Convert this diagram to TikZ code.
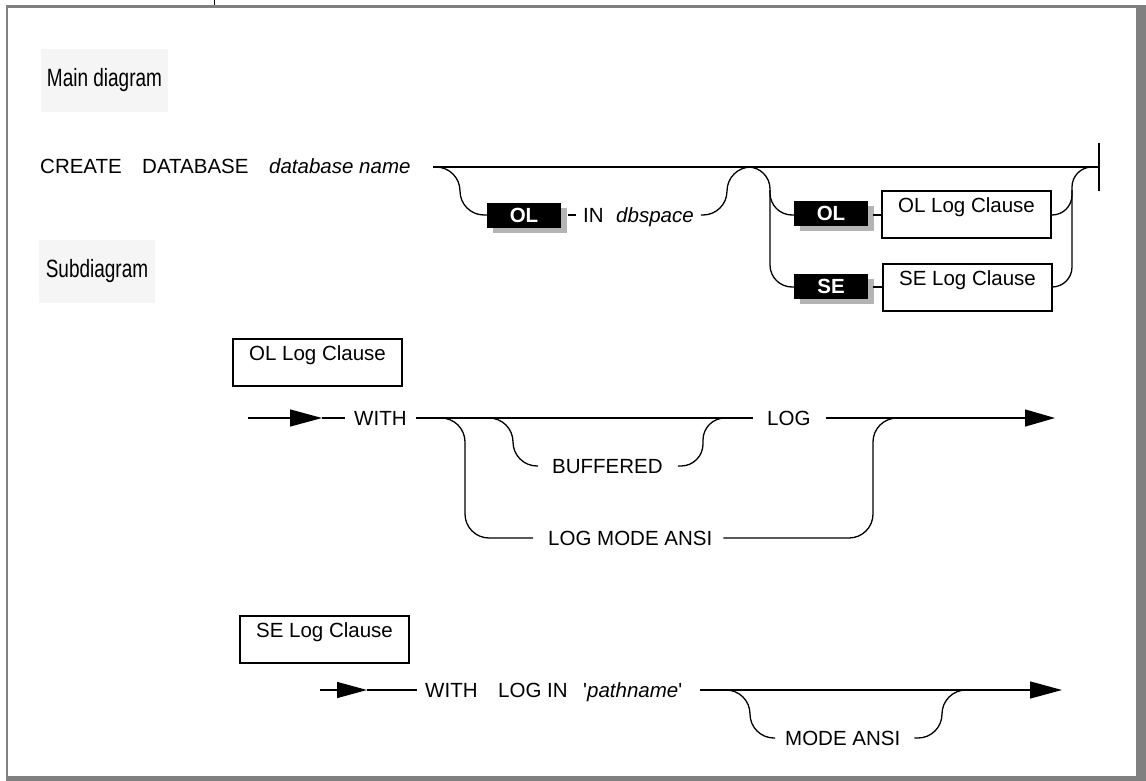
\documentclass[tikz,border=0pt]{standalone}
\usepackage{fontspec}
\setmainfont{Liberation Sans}
\newfontfamily\labelfont[FakeStretch=0.76]{Liberation Sans}
\usetikzlibrary{arrows.meta,shadows}
\definecolor{framegray}{HTML}{808080}
\definecolor{shadowgray}{HTML}{B4B4B4}
\definecolor{labelbg}{HTML}{F5F5F5}
\tikzset{
  kw/.style={inner sep=0pt, anchor=west, text height=14.7pt, text depth=0pt, font=\fontsize{20.5}{24}\selectfont},
  var/.style={kw, font=\fontsize{20.5}{24}\selectfont\itshape},
  rail/.style={line width=1.3pt, rounded corners=24pt},
  tag/.style={fill=black, text=white, inner sep=0pt, minimum width=74pt, minimum height=25pt,
    text height=14.7pt, text depth=0pt, font=\fontsize{20.5}{24}\selectfont\bfseries,
    general shadow={fill=shadowgray, shadow xshift=6pt, shadow yshift=-5pt}},
  clause/.style={draw, line width=2.4pt, inner xsep=0pt, inner ysep=6.5pt, minimum width=168.6pt,
    text height=14.3pt, text depth=19.3pt, anchor=north west, font=\fontsize{20.5}{24}\selectfont},
  lbl/.style={fill=labelbg, inner sep=0pt, font=\labelfont\fontsize{25}{28}\selectfont},
  bigtip/.style={-{Triangle[length=32pt,width=17pt]}},
}
\begin{document}
\begin{tikzpicture}[x=1pt,y=-1pt]
\useasboundingbox (0,0) rectangle (1146,781);
% frame
\fill[framegray] (6,5) rectangle (1146,8);
\fill[framegray] (6,5) rectangle (8.3,776);
\fill[framegray] (6,776) rectangle (1146,781);
\fill[framegray] (1136,5) rectangle (1146,781);
\draw[line width=1pt] (214,0) -- (214,5);

% labels
\node[lbl, minimum width=127pt, minimum height=63pt] (mainlbl) at (104.5,80.5) {Main diagram};
\node[lbl, minimum width=116pt, minimum height=63pt] (sublbl) at (97,271.5) {Subdiagram};

% ---------------- main diagram ----------------
\node[kw] (create) at (40,166.5) {CREATE};
\node[kw] (database) at (142,166.5) {DATABASE};
\node[var] (dbname) at (269,166.5) {database name};
\coordinate (m0) at (433,167);
\coordinate (b2) at (748,167);
\coordinate (mend) at (1099,167);
\draw[line width=1.3pt] (m0) -- (mend);
\draw[line width=1.3pt] (1099,143) -- (1099,191);

% OL IN dbspace branch
\node[tag] (ol1) at (524,215) {OL};
\node[kw] (in) at (583,215) {IN};
\node[var] (dbspace) at (616,215) {dbspace};
\draw[rail] (m0) -- (460,167) -- (460,215) -- (ol1.west);
\draw[line width=1.3pt] ([xshift=7pt]ol1.east) -- ([xshift=-7pt]in.west);
\draw[rail] ([xshift=7pt]dbspace.east) -- (727,215) -- (727,167) -- (751,167);

% log clause branches
\node[tag] (ol2) at (831,213) {OL};
\node[tag] (se) at (831,286) {SE};
\node[clause] (olc) at (881,190) {OL Log Clause};
\node[clause] (sec) at (882,263) {SE Log Clause};
\draw[rail, rounded corners=22pt] (b2) -- (770,167) -- (770,287) -- (795,287);
\draw[rail, rounded corners=22pt] (770,190) -- (770,215) -- (795,215);
\draw[line width=1.3pt] (873,215) -- (olc.west |- 0,215);
\draw[line width=1.3pt] (873,287) -- (sec.west |- 0,287);
\draw[rail, rounded corners=20pt] (sec.east |- 0,287) -- (1072,287) -- (1072,167) -- (1093,167);
\draw[rail, rounded corners=20pt] (olc.east |- 0,215) -- (1072,215) -- (1072,190);

% ---------------- OL Log Clause subdiagram ----------------
\node[clause] (olhead) at (232,338) {OL Log Clause};
\coordinate (s1start) at (248,418);
\coordinate (s1tip) at (322,418);
\draw[line width=1.3pt, bigtip] (s1start) -- (s1tip);
\node[kw] (with1) at (354,418) {WITH};
\draw[line width=1.3pt] (s1tip) -- ([xshift=-9pt]with1.west);
\node[kw] (log1) at (767,418) {LOG};
\draw[line width=1.3pt] ([xshift=9pt]with1.east) -- ([xshift=-14pt]log1.west);
\coordinate (s1end) at (1055,418);
\draw[line width=1.3pt, -{Triangle[length=30pt,width=17pt]}] ([xshift=15pt]log1.east) -- (s1end);

\node[kw] (buf) at (552,466) {BUFFERED};
\draw[rail] (488,418) -- (513,418) -- (513,466) -- ([xshift=-14pt]buf.west);
\draw[rail, rounded corners=22pt] ([xshift=15pt]buf.east) -- (703,466) -- (703,418) -- (730,418);

\node[kw] (lma) at (548,538) {LOG MODE ANSI};
\draw[rail] (440,418) -- (465,418) -- (465,538) -- ([xshift=-15pt]lma.west);
\draw[rail] ([xshift=11pt]lma.east) -- (873,538) -- (873,418) -- (899,418);

% ---------------- SE Log Clause subdiagram ----------------
\node[clause] (sehead) at (239,615) {SE Log Clause};
\coordinate (s2start) at (320,690);
\coordinate (s2tip) at (367,690);
\draw[line width=1.3pt, -{Triangle[length=30pt,width=16pt]}] (s2start) -- (s2tip);
\node[kw] (with2) at (425,690) {WITH};
\draw[line width=1.3pt] (s2tip) -- ([xshift=-8pt]with2.west);
\node[kw] (login) at (498,690) {LOG IN};
\node[kw] (path) at (583,690) {\textquotesingle\textit{pathname}\textquotesingle};
\coordinate (s2end) at (1062,690);
\draw[line width=1.3pt, bigtip] ([xshift=18pt]path.east) -- (s2end);
\node[kw] (mode) at (785,738) {MODE ANSI};
\draw[rail] (723,690) -- (750,690) -- (750,738) -- ([xshift=-10pt]mode.west);
\draw[rail] ([xshift=14pt]mode.east) -- (942,738) -- (942,690) -- (966,690);
\end{tikzpicture}
\end{document}
